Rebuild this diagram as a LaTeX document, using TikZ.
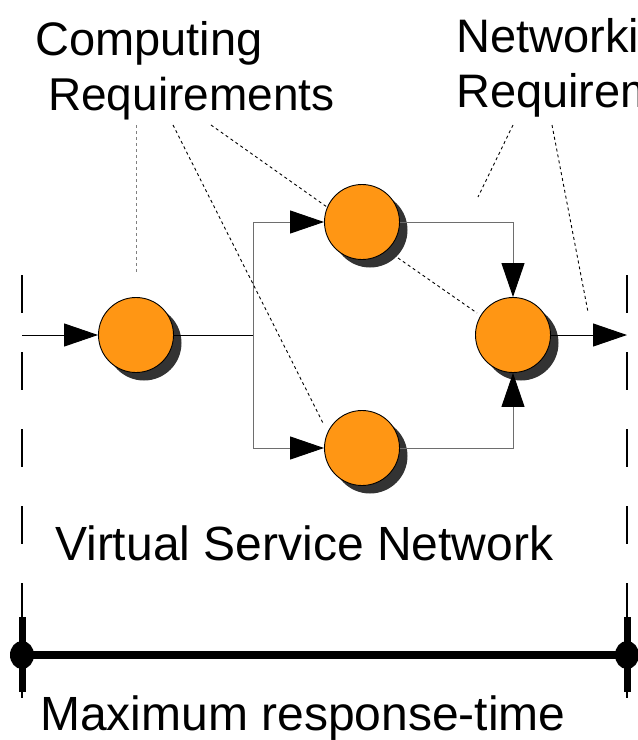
\documentclass[tikz,border=0pt]{standalone}
\usepackage{fontspec}
\setmainfont{Liberation Sans}
\usetikzlibrary{arrows.meta,shadows}
\definecolor{vsnorange}{RGB}{255,150,20}
\definecolor{shadowgray}{RGB}{51,51,51}
\definecolor{linkgray}{RGB}{110,110,110}
\begin{document}
\begin{tikzpicture}[x=1pt,y=-1pt,
  proc/.style={circle, minimum size=75pt, inner sep=0pt, draw=black, line width=0.9pt, fill=vsnorange,
    drop shadow={shadow xshift=8pt, shadow yshift=-8pt, opacity=1, fill=shadowgray, draw=none}},
  flow/.style={line width=1pt, -{Triangle[length=34pt,width=23pt,color=black]}},
  annot/.style={line width=0.9pt, dash pattern=on 3pt off 3pt},
  bound/.style={line width=1.2pt, dash pattern=on 38pt off 39pt},
  lbl/.style={anchor=base west, inner sep=0pt, font=\fontsize{47}{52}\selectfont},
  bigl/.style={anchor=base west, inner sep=0pt, font=\fontsize{48}{54}\selectfont}
]
\useasboundingbox (0,0) rectangle (638,740);
\clip (0,0) rectangle (638,740);

% labels
\node[lbl] (comp1) at (35,55) {Computing};
\node[lbl, font=\fontsize{46}{52}\selectfont] (comp2) at (48,110) {Requirements};
\node[lbl] (net1) at (456,52) {Networking};
\node[lbl] (net2) at (456,107) {Requirements};
\node[bigl] (vsn) at (55,560) {Virtual Service Network};
\node[bigl] (mrt) at (40,730) {Maximum response-time};

% boundary lines
\coordinate (lt) at (22,275);
\coordinate (lb) at (22,698);
\coordinate (rt) at (627,275);
\coordinate (rb) at (627,698);
\draw[bound] (lt) -- (lb);
\draw[bound] (rt) -- (rb);

% response-time bar
\coordinate (bl) at (22,655);
\coordinate (br) at (627,655);
\coordinate (blt) at (22,617);
\coordinate (blb) at (22,692);
\coordinate (brt) at (627,617);
\coordinate (brb) at (627,692);
\draw[line width=8pt] (bl) -- (br);
\draw[line width=7pt] (blt) -- (blb);
\draw[line width=7pt] (brt) -- (brb);
\fill (bl) ellipse (12 and 14);
\fill (br) ellipse (12 and 14);

% processing nodes
\node[proc] (n1) at (136,335) {};
\node[proc] (n2) at (362,222) {};
\node[proc] (n3) at (362,448) {};
\node[proc] (n4) at (513,335) {};

% connectors
\coordinate (in) at (22,335);
\coordinate (out) at (627,335);
\coordinate (split) at (253,335);
\draw[flow] (in) -- (n1);
\draw[line width=1pt] (n1) -- (split);
\draw[flow, linkgray] (split) |- (n2);
\draw[flow, linkgray] (split) |- (n3);
\draw[flow, linkgray] (n2) -| (n4);
\draw[flow, linkgray] (n3) -| (n4);
\draw[flow] (n4) -- (out);

% computing requirement annotations
\coordinate (ca) at (136,125);
\coordinate (cb) at (173,125);
\coordinate (cc) at (211,125);
\coordinate (ca1) at (136,273);
\coordinate (cb1) at (323,423);
\coordinate (cc1) at (327,207);
\draw[annot, gray] (ca) -- (ca1);
\draw[annot] (cb) -- (cb1);
\draw[annot] (cc) -- (cc1);

% networking requirement annotations
\coordinate (na) at (513,125);
\coordinate (nb) at (552,125);
\coordinate (na1) at (478,197);
\coordinate (nb1) at (588,312);
\coordinate (d1) at (398,258);
\coordinate (d2) at (477,313);
\draw[annot] (na) -- (na1);
\draw[annot] (nb) -- (nb1);
\draw[annot] (d1) -- (d2);
\end{tikzpicture}
\end{document}
